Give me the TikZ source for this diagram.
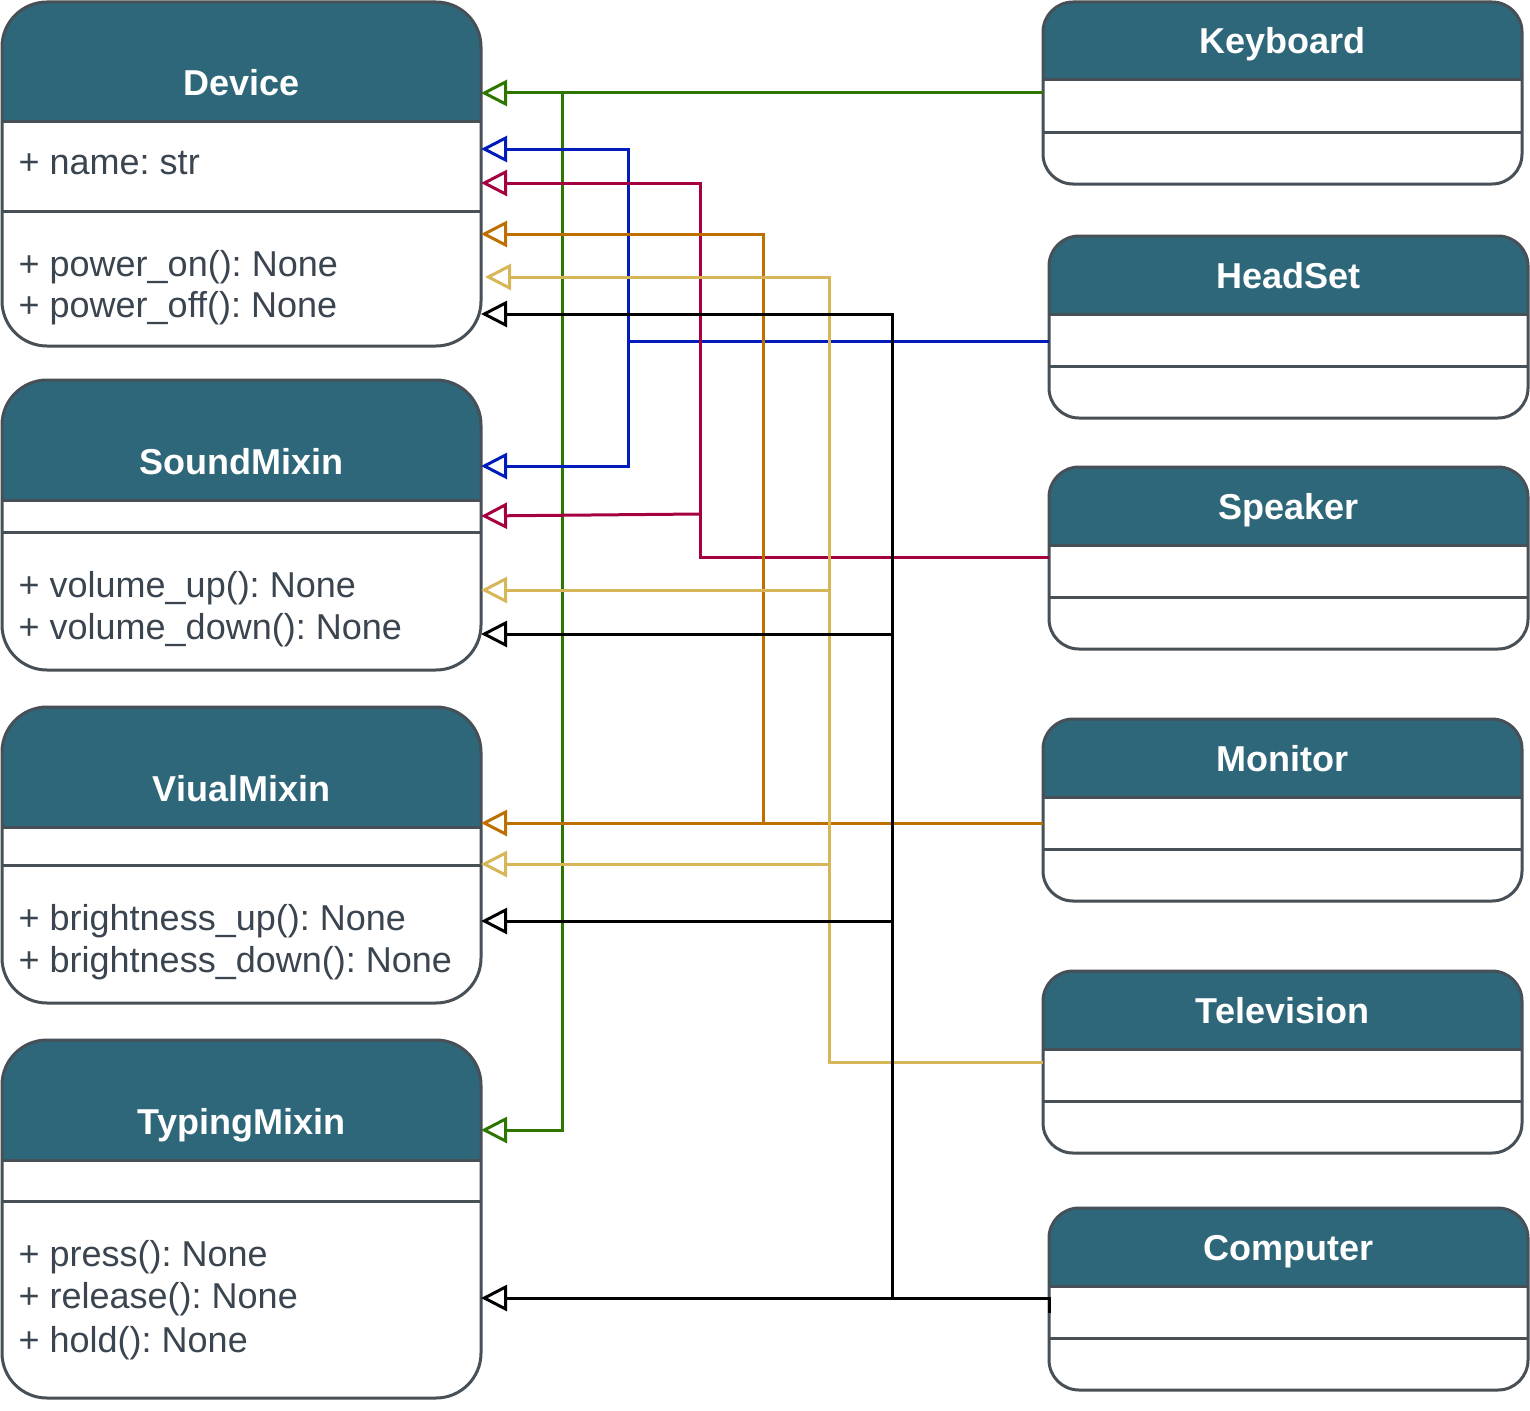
\documentclass[tikz,border=0pt]{standalone}
\usepackage{fontspec}
\setmainfont{Liberation Sans}
\usetikzlibrary{arrows.meta,calc}
\frenchspacing
\definecolor{hdr}{HTML}{2E6779}
\definecolor{edge}{HTML}{474F57}
\definecolor{txt}{HTML}{3B4550}
\definecolor{cgreen}{HTML}{2D7600}
\definecolor{cblue}{HTML}{001DBC}
\definecolor{cred}{HTML}{A50040}
\definecolor{corange}{HTML}{BD7000}
\definecolor{cyellow}{HTML}{D6B656}
\tikzset{
  classbox/.style={rectangle, fill=white, draw=none, inner sep=0pt, outer sep=0pt},
  edgeline/.style={draw=edge, line width=3pt},
  titletext/.style={anchor=base, text=white, font=\fontsize{36}{42}\selectfont\bfseries\frenchspacing, inner sep=0pt},
  bodytext/.style={anchor=base west, text=txt, font=\fontsize{36}{42}\selectfont\frenchspacing, inner sep=0pt},
  conn/.style={line width=3pt},
  inh/.style={-{Triangle[open, length=26pt, width=26pt]}}
}
\newcommand{\umlclass}[9]{%
  \node[classbox, rounded corners=#8, minimum width=#4, minimum height=#5] (#1) at ({#2+#4/2},{#3+#5/2}) {};
  \begin{scope}
    \clip[rounded corners=#8] (#1.north west) rectangle (#1.south east);
    \fill[hdr] (#1.north west) rectangle ($(#1.north east)+(0,#6)$);
  \end{scope}
  \draw[edgeline] ($(#1.north west)+(0,#6)$) -- ($(#1.north east)+(0,#6)$);
  \draw[edgeline] ($(#1.north west)+(0,#7)$) -- ($(#1.north east)+(0,#7)$);
  \draw[edgeline, rounded corners=#8] (#1.north west) rectangle (#1.south east);
  \node[titletext] (#1-title) at ($(#1.north)+(0,#6-26)$) {#9};
}
\begin{document}
\begin{tikzpicture}[x=1pt, y=-1pt]
\useasboundingbox (0,0) rectangle (1530,1410);
% left classes
\umlclass{dev}{2}{2}{479}{344}{120}{209}{45}{Device}
\umlclass{snd}{2}{380}{479}{290}{120}{152}{45}{SoundMixin}
\umlclass{vis}{2}{707}{479}{296}{120}{158}{45}{ViualMixin}
\umlclass{typ}{2}{1040}{479}{358}{120}{161}{45}{TypingMixin}
% right classes
\umlclass{kbd}{1043}{2}{479}{182}{78}{130}{30}{Keyboard}
\umlclass{hs}{1049}{236}{479}{182}{78}{130}{30}{HeadSet}
\umlclass{spk}{1049}{467}{479}{182}{78}{130}{30}{Speaker}
\umlclass{mon}{1043}{719}{479}{182}{78}{130}{30}{Monitor}
\umlclass{tv}{1043}{971}{479}{182}{78}{130}{30}{Television}
\umlclass{cmp}{1049}{1208}{479}{182}{78}{130}{30}{Computer}
% members
\node[bodytext] (dev-a1) at (18.5,174) {+ name: str};
\node[bodytext] (dev-m1) at (18.5,276) {+ power\_on(): None};
\node[bodytext] (dev-m2) at (18.5,317) {+ power\_off(): None};
\node[bodytext] (snd-m1) at (18.5,597) {+ volume\_up(): None};
\node[bodytext] (snd-m2) at (18.5,639) {+ volume\_down(): None};
\node[bodytext] (vis-m1) at (18.5,930) {+ brightness\_up(): None};
\node[bodytext] (vis-m2) at (18.5,972) {+ brightness\_down(): None};
\node[bodytext] (typ-m1) at (18.5,1266) {+ press(): None};
\node[bodytext] (typ-m2) at (18.5,1308) {+ release(): None};
\node[bodytext] (typ-m3) at (18.5,1352) {+ hold(): None};
% green: Keyboard
\coordinate (gJ) at (562,93);
\draw[conn,cgreen,inh] (kbd.west) -- (dev.east |- kbd.west);
\draw[conn,cgreen,inh] (gJ) -- (562,1130) -- (481,1130);
% blue: HeadSet
\coordinate (bJ) at (628,341);
\draw[conn,cblue,inh] (hs.west |- bJ) -- (bJ) -- (628,149) -- (481,149);
\draw[conn,cblue,inh] (bJ) -- (628,466) -- (481,466);
% crimson: Speaker
\coordinate (rJ) at (700,514);
\draw[conn,cred,inh] (spk.west |- 700,557) -- (700,557) -- (700,183) -- (481,183);
\draw[conn,cred,inh] (rJ) -- (481,516);
% orange: Monitor
\coordinate (oJ) at (763,823);
\draw[conn,corange,inh] (mon.west |- oJ) -- (oJ) -- (763,234) -- (481,234);
\draw[conn,corange,inh] (oJ) -- (481,823);
% yellow: Television
\coordinate (yJ1) at (829,590);
\coordinate (yJ2) at (829,864);
\draw[conn,cyellow,inh] (tv.west |- 829,1062) -- (829,1062) -- (829,277) -- (485,277);
\draw[conn,cyellow,inh] (yJ1) -- (481,590);
\draw[conn,cyellow,inh] (yJ2) -- (481,864);
% black: Computer
\coordinate (kJ1) at (892,634);
\coordinate (kJ2) at (892,921);
\coordinate (kJ3) at (892,1298);
\draw[conn,black,inh] (cmp.west |- 0,1313) -- (cmp.west |- kJ3) -- (kJ3) -- (892,314) -- (481,314);
\draw[conn,black,inh] (kJ1) -- (481,634);
\draw[conn,black,inh] (kJ2) -- (481,921);
\draw[conn,black,inh] (kJ3) -- (481,1298);
\end{tikzpicture}
\end{document}
